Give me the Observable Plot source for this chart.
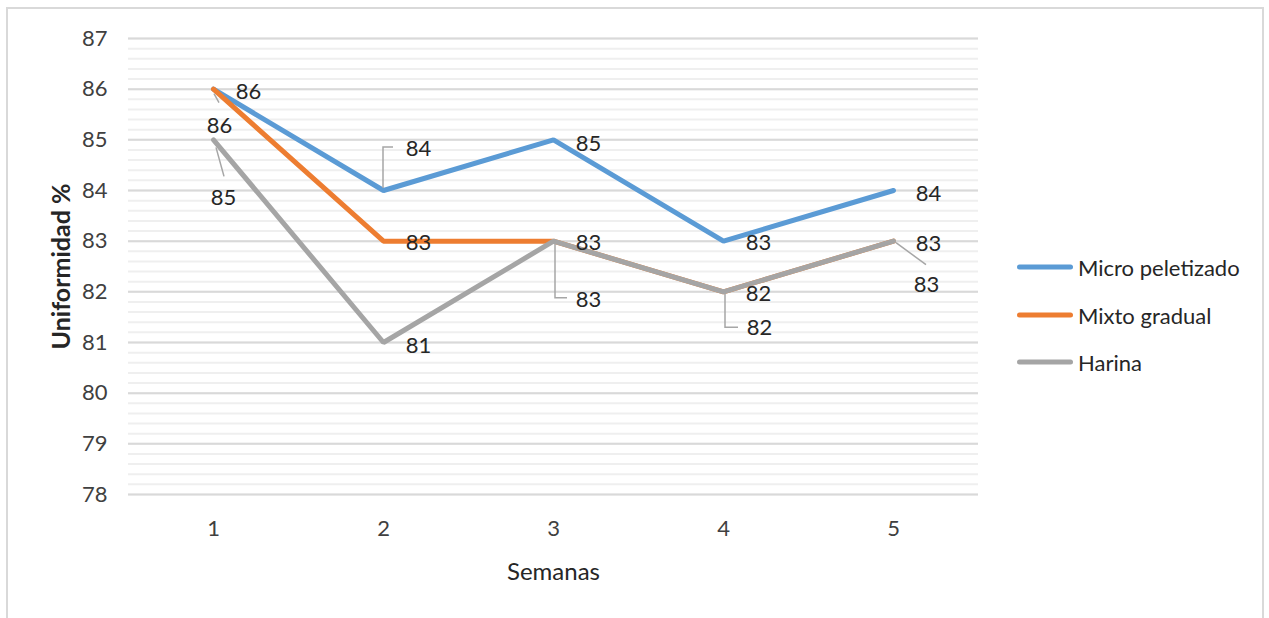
<!DOCTYPE html>
<html>
<head>
<meta charset="utf-8">
<script src="https://cdn.jsdelivr.net/npm/d3@7"></script>
<script src="https://cdn.jsdelivr.net/npm/@observablehq/plot@0.6"></script>
<style>
  html, body { margin: 0; padding: 0; background: #fff; }
  #wrap { position: relative; width: 1269px; height: 618px; overflow: hidden; font-family: Lato, "Open Sans", sans-serif; }
  #frame { position: absolute; left: 6px; top: 7px; width: 1258px; height: 640px; border: 2px solid #d9d9d9; box-sizing: border-box; }
  #chart { position: absolute; left: 0; top: 0; }
  #legend { position: absolute; left: 1017px; top: 0; font-size: 22px; color: #262626; }
  .row { position: absolute; left: 0; display: flex; align-items: center; white-space: nowrap; transform: translateY(-50%); }
  .sw { width: 56px; height: 5px; border-radius: 3px; margin-right: 5px; }
</style>
</head>
<body>
<div id="wrap">
  <div id="frame"></div>
  <div id="chart"></div>
  <div id="legend"></div>
</div>
<script>
// ---- data ----
const weeks = [1, 2, 3, 4, 5];
const seriesNames = ["Micro peletizado", "Mixto gradual", "Harina"];
const microPeletizado = [86, 84, 85, 83, 84];
const mixtoGradual = [86, 83, 83, 82, 83];
const harina = [85, 81, 83, 82, 83];
const yTicks = [78, 79, 80, 81, 82, 83, 84, 85, 86, 87];
const xTicks = [1, 2, 3, 4, 5];
const xTitle = "Semanas";
const yTitle = "Uniformidad %";

// ---- style / layout ----
const colors = ["#5b9bd5", "#ed7d31", "#a5a5a5"];
const labelOffsets = [
  [[35, 3], [35, -42], [35, 4], [35, 2], [35, 3]],
  [[6, 37], [35, 2], [35, 2], [35, 2], [35, 3]],
  [[10, 58], [35, 3], [35, 59], [36, 36], [33, 44]]
];
const leaderPaths = [
  [null, "M0,-2V-43H10", null, null, null],
  ["M1,5L6,14", null, null, null, null],
  ["M3,8L11,37", null, "M2,2V57H14", "M2,1V36H15", "M3,2L33,24"]
];

const allValues = [microPeletizado, mixtoGradual, harina];
const rows = [];
allValues.forEach((vals, s) => {
  weeks.forEach((w, i) => rows.push({series: seriesNames[s], s, i, week: w, value: vals[i]}));
});

const minor = d3.range(0, 46).map(i => 78 + i * 0.2);

const labelMarks = rows.map(r => Plot.text([r], {
  x: "week", y: "value", text: d => String(d.value),
  dx: labelOffsets[r.s][r.i][0], dy: labelOffsets[r.s][r.i][1],
  fontSize: 22, fill: "#262626", textAnchor: "middle", lineAnchor: "middle"
}));

const leaderMark = (index, scales, values, dims) => {
  const g = d3.create("svg:g");
  rows.forEach(r => {
    const p = leaderPaths[r.s][r.i];
    if (!p) return;
    g.append("path")
      .attr("transform", `translate(${scales.x(r.week)},${scales.y(r.value)})`)
      .attr("d", p)
      .attr("fill", "none")
      .attr("stroke", "#a6a6a6")
      .attr("stroke-width", 1.5);
  });
  return g.node();
};

const chart = Plot.plot({
  width: 1269,
  height: 618,
  marginLeft: 128,
  marginRight: 291,
  marginTop: 38,
  marginBottom: 124,
  style: {fontFamily: "Lato, 'Open Sans', sans-serif", background: "transparent", color: "#404040"},
  x: {type: "linear", domain: [0.5, 5.5]},
  y: {domain: [78, 87]},
  marks: [
    Plot.ruleY(minor, {stroke: "#efefef", strokeWidth: 2}),
    Plot.ruleY(yTicks, {stroke: "#d9d9d9", strokeWidth: 2}),
    Plot.axisY({ticks: yTicks, tickSize: 0, tickPadding: 21, fontSize: 22, label: null, fill: "#404040"}),
    Plot.axisX({ticks: xTicks, tickSize: 0, tickPadding: 26, fontSize: 22, label: null, fill: "#404040", tickFormat: d => String(d)}),
    Plot.text([yTitle], {frameAnchor: "left", textAnchor: "middle", lineAnchor: "middle", dx: -67, rotate: -90, fontSize: 25, fontWeight: "bold", fill: "#262626"}),
    Plot.text([xTitle], {frameAnchor: "bottom", textAnchor: "middle", lineAnchor: "middle", dy: 78, fontSize: 24, fill: "#262626"}),
    ...seriesNames.map((name, s) => Plot.line(rows.filter(r => r.s === s), {
      x: "week", y: "value", stroke: colors[s], strokeWidth: 5, strokeLinejoin: "miter", strokeLinecap: "round"
    })),
    leaderMark,
    ...labelMarks
  ]
});
document.getElementById("chart").appendChild(chart);

const legend = document.getElementById("legend");
const legendY = [267, 315, 362];
seriesNames.forEach((name, s) => {
  const row = document.createElement("div");
  row.className = "row";
  row.style.top = legendY[s] + "px";
  const sw = document.createElement("span");
  sw.className = "sw";
  sw.style.background = colors[s];
  const t = document.createElement("span");
  t.textContent = name;
  row.appendChild(sw);
  row.appendChild(t);
  legend.appendChild(row);
});
</script>
</body>
</html>
